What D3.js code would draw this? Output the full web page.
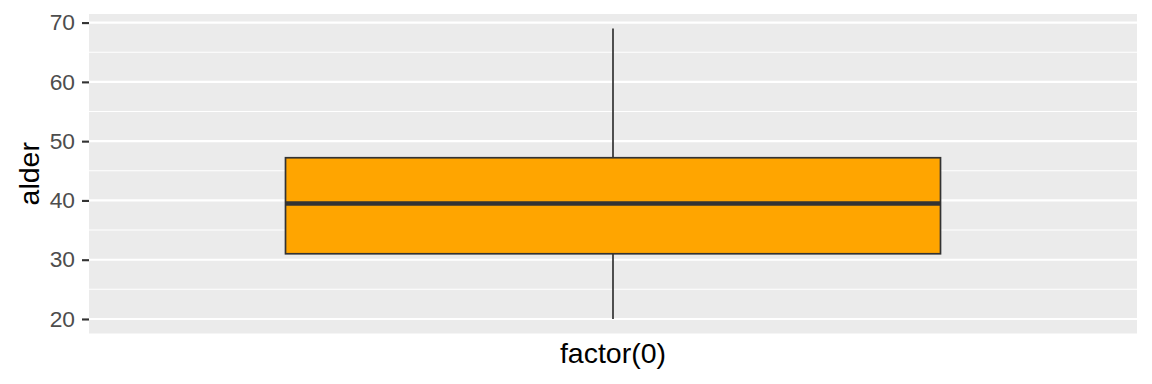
<!DOCTYPE html>
<html><head><meta charset="utf-8">
<script src="https://cdn.jsdelivr.net/npm/d3@7"></script>
<style>body{margin:0;background:#fff}svg{display:block}text{font-family:Arial,"Liberation Sans",sans-serif}</style>
</head><body>
<svg id="c" width="1152" height="384"></svg>
<script>
const categories = ["factor(0)"];
const whiskerLow = [20];
const q1 = [31];
const median = [39.5];
const q3 = [47.2];
const whiskerHigh = [69];
const yTicks = [20, 30, 40, 50, 60, 70];
const yMinor = [25, 35, 45, 55, 65];
const yLabel = "alder";

const svg = d3.select("#c");
const m = {left: 89, right: 1137, top: 14, bottom: 333.5};
const span = d3.max(whiskerHigh) - d3.min(whiskerLow);
const y = d3.scaleLinear()
  .domain([d3.min(whiskerLow) - span*0.05, d3.max(whiskerHigh) + span*0.05])
  .range([m.bottom, m.top]);
// ggplot discrete: continuous range 0.4..1.6, box width 0.75
const xc = d3.scaleLinear().domain([0.4, categories.length + 0.6]).range([m.left, m.right]);

svg.append("rect").attr("x", m.left).attr("y", m.top).attr("width", m.right-m.left).attr("height", m.bottom-m.top).attr("fill", "#EBEBEB");

svg.append("g").selectAll("line").data(yMinor).join("line")
  .attr("x1", m.left).attr("x2", m.right).attr("y1", d=>y(d)).attr("y2", d=>y(d))
  .attr("stroke", "#fff").attr("stroke-width", 1.07);
svg.append("g").selectAll("line").data(yTicks).join("line")
  .attr("x1", m.left).attr("x2", m.right).attr("y1", d=>y(d)).attr("y2", d=>y(d))
  .attr("stroke", "#fff").attr("stroke-width", 2.13);

const yAxis = d3.axisLeft(y).tickValues(yTicks).tickSize(7).tickPadding(7);
const ga = svg.append("g").attr("transform", `translate(${m.left},0)`).call(yAxis);
ga.select(".domain").remove();
ga.selectAll(".tick line").attr("stroke", "#333333").attr("stroke-width", 2.13);
ga.selectAll(".tick text").attr("fill", "#4D4D4D").style("font-size", "22.8px").attr("font-family", "Arial, 'Liberation Sans', sans-serif");

svg.selectAll("text.xlab").data(categories).join("text").attr("class", "xlab")
  .attr("x", (d,i)=>xc(i+1)).attr("y", 363).attr("text-anchor", "middle")
  .style("font-size", "28.5px").attr("fill", "#000").text(d=>d);
svg.append("text").attr("transform", `translate(38.5,${(m.top+m.bottom)/2}) rotate(-90)`)
  .attr("text-anchor", "middle").style("font-size", "28.5px").attr("fill", "#000").text(yLabel);

const bw = 0.75;
categories.forEach((c, i) => {
  const cx = xc(i+1);
  const g = svg.append("g");
  g.append("line").attr("x1", cx).attr("x2", cx).attr("y1", y(q3[i])).attr("y2", y(whiskerHigh[i])).attr("stroke", "#333333").attr("stroke-width", 1.7);
  g.append("line").attr("x1", cx).attr("x2", cx).attr("y1", y(q1[i])).attr("y2", y(whiskerLow[i])).attr("stroke", "#333333").attr("stroke-width", 1.7);
  g.append("rect").attr("x", xc(i+1-bw/2)).attr("width", xc(i+1+bw/2)-xc(i+1-bw/2))
    .attr("y", y(q3[i])).attr("height", y(q1[i])-y(q3[i]))
    .attr("fill", "#FFA500").attr("stroke", "#333333").attr("stroke-width", 1.7);
  g.append("line").attr("x1", xc(i+1-bw/2)).attr("x2", xc(i+1+bw/2)).attr("y1", y(median[i])).attr("y2", y(median[i]))
    .attr("stroke", "#333333").attr("stroke-width", 4.5);
});
</script>
</body></html>
